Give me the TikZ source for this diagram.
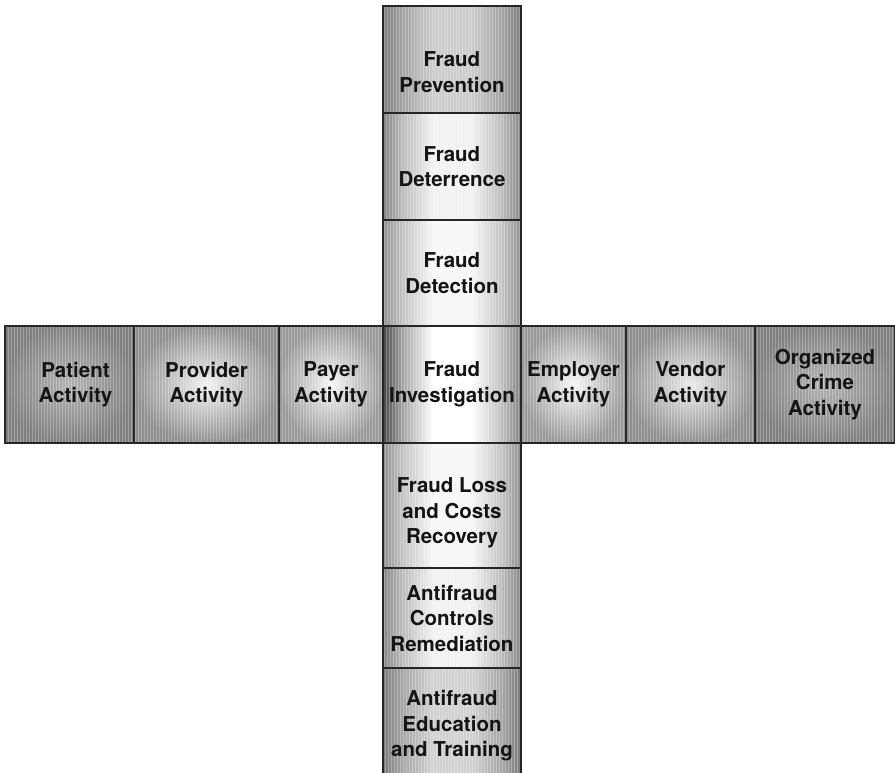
\documentclass[tikz,border=0pt]{standalone}
\usepackage{fontspec}
\setmainfont{TeX Gyre Heros}
\colorlet{cleft}{gray}
\colorlet{cmid}{white}
\colorlet{cright}{gray}
% the path covers 25bp..75bp of the shading
\pgfdeclarehorizontalshading[cleft,cmid,cright]{colshade}{100bp}{color(0bp)=(cleft); color(25bp)=(cleft); color(32bp)=(cleft!50!cmid); color(43bp)=(cmid); color(57bp)=(cmid); color(68bp)=(cright!50!cmid); color(75bp)=(cright); color(100bp)=(cright)}
\tikzset{
	cell/.style={draw=black!85, line width=1.3pt, inner sep=0pt, align=center,
		font=\fontsize{20.5}{25.5}\selectfont\bfseries, text=black!92,
		path picture={\draw[white, opacity=0.28, line width=0.6pt, step=3]
			(path picture bounding box.south west) grid (path picture bounding box.north east);}},
	col/.style 2 args={cell, /utils/exec={\colorlet{cleft}{#1}\colorlet{cright}{#1}\colorlet{cmid}{#2}}, shading=colshade},
	rightedge/.style={/utils/exec={\colorlet{cright}{#1}}},
	row/.style 2 args={cell, inner color=#2, outer color=#1},
	sz/.style 2 args={minimum width=#1, minimum height=#2}
}
\begin{document}
\begin{tikzpicture}[x=1pt, y=-1pt]
	\useasboundingbox (0,0) rectangle (895,772);
	% vertical column
	\node[col={black!52}{black!20}, sz={138}{107}] (prevention) at (452,59.5) {\mbox{}\\[14.5pt]Fraud\\Prevention};
	\node[col={black!48}{black!5}, sz={138}{107}] (deterrence) at (452,166.5) {Fraud\\Deterrence};
	\node[col={black!44}{black!3}, sz={138}{106}] (detection) at (452,273) {Fraud\\Detection};
	\node[col={black!44}{black!3}, sz={138}{125}] (loss) at (452,505.5) {\mbox{}\\[4.5pt]Fraud Loss\\and Costs\\Recovery};
	\node[col={black!48}{black!5}, sz={138}{100}] (controls) at (452,618) {Antifraud\\Controls\\Remediation};
	\node[col={black!52}{black!18}, sz={138}{116}] (education) at (452,726) {Antifraud\\Education\\and Training};
	% horizontal row
	\node[row={black!50}{black!30}, sz={129}{117}] (patient) at (69.5,384.5) {\hspace*{12pt}Patient\\\hspace*{12pt}Activity};
	\node[row={black!44}{black!5}, sz={145}{117}] (provider) at (206.5,384.5) {Provider\\Activity};
	\node[row={black!40}{black!3}, sz={104}{117}] (payer) at (331,384.5) {Payer\\Activity};
	\node[row={black!40}{black!3}, sz={105}{117}] (employer) at (573.5,384.5) {Employer\\Activity};
	\node[row={black!44}{black!8}, sz={129}{117}] (vendor) at (690.5,384.5) {Vendor\\Activity};
	\node[row={black!50}{black!30}, sz={140}{117}] (crime) at (825,384.5) {Organized\\Crime\\Activity};
	% centre
	\node[col={black!72}{white}, rightedge=black!50, sz={138}{117}] (investigation) at (452,384.5) {Fraud\\Investigation};
\end{tikzpicture}
\end{document}
